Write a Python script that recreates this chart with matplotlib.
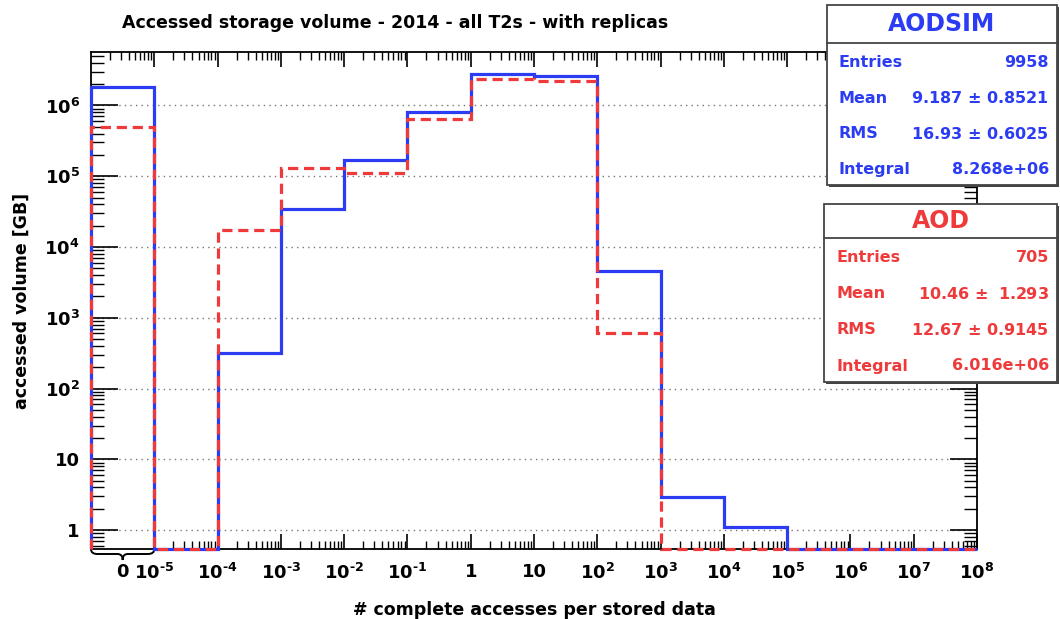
import numpy as np
import matplotlib
matplotlib.use("Agg")
import matplotlib.pyplot as plt
from matplotlib.path import Path
from matplotlib.patches import PathPatch, Rectangle
import matplotlib.transforms as mtransforms
from matplotlib.ticker import FixedLocator, NullFormatter

plt.rcParams['font.family'] = ['DejaVu Sans']
plt.rcParams['font.weight'] = 'bold'
plt.rcParams['mathtext.default'] = 'bf'

# bins: zero bin, then one bin per decade from 1e-5 up to 1e8
bin_labels = ['0', '$10^{\\text{-}5}$', '$10^{\\text{-}4}$', '$10^{\\text{-}3}$', '$10^{\\text{-}2}$',
              '$10^{\\text{-}1}$', '1', '10', '$10^{2}$', '$10^{3}$', '$10^{4}$', '$10^{5}$',
              '$10^{6}$', '$10^{7}$', '$10^{8}$']
aodsim = [1.85e6, 0, 321, 3.4e4, 1.68e5, 8.1e5, 2.77e6, 2.62e6, 4.6e3, 2.96, 1.11, 0, 0, 0]
aod = [4.9e5, 0, 1.75e4, 1.31e5, 1.12e5, 6.4e5, 2.36e6, 2.23e6, 614, 0, 0, 0, 0, 0]

aodsim_stats = [('Entries', '9958'), ('Mean', '9.187 $\\pm$ 0.8521'),
                ('RMS', '16.93 $\\pm$ 0.6025'), ('Integral', '8.268e+06')]
aod_stats = [('Entries', '705'), ('Mean', '10.46 $\\pm$  1.293'),
             ('RMS', '12.67 $\\pm$ 0.9145'), ('Integral', '6.016e+06')]

blue = '#2b3cf2'
red = '#ee3a3a'
ymin, ymax = 0.54, 5.7e6

W, H = 1060, 619
fig = plt.figure(figsize=(W / 100, H / 100), dpi=100)
ax = fig.add_axes([91 / W, 1 - 549 / H, (977 - 91) / W, (549 - 52) / H])

edges = np.arange(len(aodsim) + 1)
ax.stairs(np.clip(aodsim, ymin, None), edges, baseline=ymin, color=blue, lw=2.3,
          clip_on=False, zorder=3)
ax.stairs(np.clip(aod, ymin, None), edges, baseline=ymin, color=red, lw=2.3,
          linestyle=(0, (3.2, 1.8)), clip_on=False, zorder=4)

ax.set_yscale('log')
ax.set_ylim(ymin, ymax)
ax.set_xlim(edges[0], edges[-1])

# y axis
yt = [1, 10, 1e2, 1e3, 1e4, 1e5, 1e6]
ax.set_yticks(yt, ['1', '10', '$10^{2}$', '$10^{3}$', '$10^{4}$', '$10^{5}$', '$10^{6}$'])
ax.yaxis.set_minor_locator(matplotlib.ticker.LogLocator(base=10, subs=np.arange(2, 10), numticks=20))
ax.yaxis.set_minor_formatter(NullFormatter())
ax.tick_params(axis='y', which='major', direction='in', length=19.5, width=1.2,
               left=True, right=True, labelsize=13, pad=8)
ax.tick_params(axis='y', which='minor', direction='in', length=9.5, width=1.0,
               left=True, right=True)

# x axis: zero-bin label at the bin centre, decades at bin edges
xpos = [0.5] + list(edges[1:])
ax.set_xticks(xpos, bin_labels)
minors = [k + np.log10(m) for k in range(0, len(aodsim)) for m in range(2, 10)]
ax.xaxis.set_minor_locator(FixedLocator(minors))
ax.tick_params(axis='x', which='major', direction='in', length=11, width=1.2,
               top=True, bottom=True, labelsize=13, pad=10)
ax.tick_params(axis='x', which='minor', direction='in', length=5.5, width=1.0,
               top=True, bottom=True)
t0 = ax.xaxis.get_major_ticks()[0]
t0.tick1line.set_visible(False)
t0.tick2line.set_visible(False)
# no bottom minor ticks inside the zero bin
for t in ax.xaxis.get_minor_ticks()[:8]:
    t.tick1line.set_visible(False)

ax.grid(axis='y', which='major', color='#777777', linestyle=(0, (1, 3)), lw=1.0)
for s in ax.spines.values():
    s.set_linewidth(1.3)

ax.set_xlabel('# complete accesses per stored data', fontsize=12.5, fontweight='bold', labelpad=13)
ax.set_ylabel('accessed volume [GB]', fontsize=12.5, fontweight='bold', labelpad=10)

# curly brace under the zero bin
tr = mtransforms.blended_transform_factory(ax.transData, ax.transAxes)
a, b = edges[0], edges[1]
px = 1.0 / (549 - 52)
mid = (a + b) / 2
w = b - a
verts = [(a, 0), (a, -5 * px), (a + 0.1 * w, -5 * px), (mid - 0.08 * w, -5 * px),
         (mid, -5 * px), (mid, -11 * px), (mid, -5 * px), (mid + 0.08 * w, -5 * px),
         (b - 0.1 * w, -5 * px), (b, -5 * px), (b, 0)]
codes = [Path.MOVETO, Path.CURVE3, Path.CURVE3, Path.LINETO, Path.CURVE3, Path.CURVE3,
         Path.CURVE3, Path.CURVE3, Path.LINETO, Path.CURVE3, Path.CURVE3]
ax.add_patch(PathPatch(Path(verts, codes), transform=tr, fill=False, lw=1.4,
                       color='black', clip_on=False))

fig.text(122 / W, 1 - 23 / H, 'Accessed storage volume - 2014 - all T2s - with replicas',
         ha='left', va='center', fontsize=12.5, fontweight='bold')


def stats_box(x0, y0, x1, y1, yhead, name, rows, color):
    fig.add_artist(Rectangle((x0 / W + 2 / W, 1 - (y1 + 2) / H), (x1 - x0) / W, (y1 - y0) / H,
                             transform=fig.transFigure, facecolor='#444444', edgecolor='none',
                             zorder=5))
    fig.add_artist(Rectangle((x0 / W, 1 - y1 / H), (x1 - x0) / W, (y1 - y0) / H,
                             transform=fig.transFigure, facecolor='white', edgecolor='#444444',
                             lw=1.3, zorder=6))
    fig.add_artist(plt.Line2D([x0 / W, x1 / W], [1 - yhead / H] * 2, transform=fig.transFigure,
                              color='#444444', lw=1.3, zorder=7))
    fig.text((x0 + x1) / 2 / W, 1 - (y0 + yhead) / 2 / H, name, ha='center', va='center',
             color=color, fontsize=17, fontweight='bold', zorder=8)
    step = (y1 - yhead) / len(rows)
    for i, (k, v) in enumerate(rows):
        yy = 1 - (yhead + step * (i + 0.5) + 2) / H
        fig.text((x0 + 12) / W, yy, k, ha='left', va='center', color=color,
                 fontsize=11.5, fontweight='bold', zorder=8)
        fig.text((x1 - 8) / W, yy, v, ha='right', va='center', color=color,
                 fontsize=11.5, fontweight='bold', zorder=8)


stats_box(827, 5, 1057, 185, 43, 'AODSIM', aodsim_stats, blue)
stats_box(824, 204, 1057, 382, 238, 'AOD', aod_stats, red)

fig.savefig('out.png', dpi=100)
